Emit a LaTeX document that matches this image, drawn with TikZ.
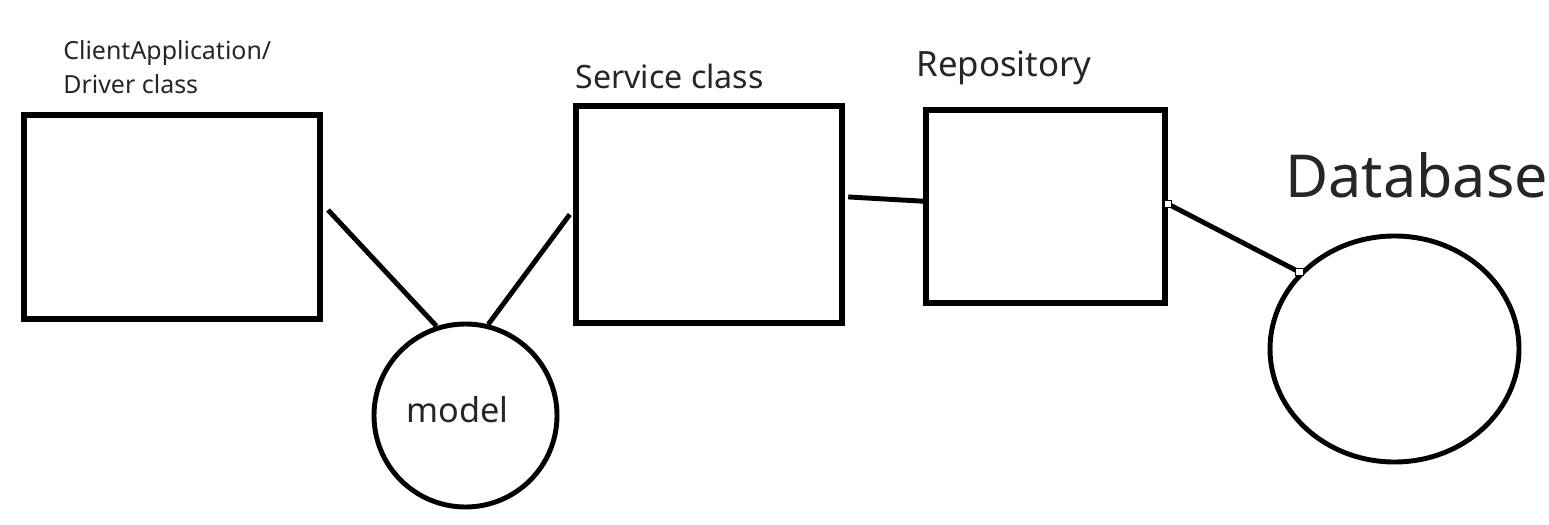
\documentclass[tikz,border=0pt]{standalone}
\usepackage{fontspec}
\setmainfont{Noto Sans}
\usetikzlibrary{positioning, shapes.geometric}

\begin{document}
\begin{tikzpicture}[
    box/.style={rectangle, draw, line width=3.1pt, inner sep=0pt},
    blob/.style={ellipse, draw, line width=2.8pt, inner sep=0pt},
    title/.style={inner sep=0pt, text=black!85, align=left},
    link/.style={line width=2.8pt},
    handle/.style={rectangle, draw, fill=white, line width=0.6pt, minimum size=0.15cm, inner sep=0pt},
]

\useasboundingbox (0,0) rectangle (30.98,-10.48);

% === Boxes ===

\node[box, minimum width=5.92cm, minimum height=4.08cm] (client) at (3.44,-4.34) {};
\node[box, minimum width=5.32cm, minimum height=4.34cm] (service) at (14.18,-4.29) {};
\node[box, minimum width=4.78cm, minimum height=3.86cm] (repo) at (20.91,-4.13) {};

\node[blob, minimum width=3.66cm, minimum height=3.66cm] (model) at (9.31,-8.31) {};
\node[blob, minimum width=4.98cm, minimum height=4.52cm] (db) at (27.89,-6.98) {};

% === Labels ===

\node[title, anchor=base west, font=\fontsize{14.2}{19.8}\selectfont] (client-l) at (1.26,-1.88)
    {ClientApplication/\\Driver class};
\node[title, anchor=base west, font=\fontsize{18.3}{22}\selectfont] (service-l) at (11.5,-1.78) {Service class};
\node[title, anchor=base west, font=\fontsize{19.8}{24}\selectfont] (repo-l) at (18.32,-1.54) {Repository};
\node[title, anchor=base west, font=\fontsize{33.7}{40}\selectfont] (db-l) at (25.7,-3.94) {Database};
\node[title, anchor=base west, font=\fontsize{19.5}{23}\selectfont] (model-l) at (8.12,-8.44) {model};

% === Connectors ===

\draw[link] ([xshift=3pt, yshift=4pt]client.east) -- (model.108);
\draw[link] (model.76) -- ([xshift=-2pt]service.west);
\draw[link] ([xshift=2pt, yshift=10pt]service.east) -- ([yshift=3pt]repo.west);
\draw[link] ([yshift=1.5pt]repo.east) -- (db.141.6);

% small end handles
\node[handle] (h-repo) at ([yshift=1.5pt]repo.east) {};
\node[handle] (h-db) at (db.141.6) {};

\end{tikzpicture}
\end{document}
